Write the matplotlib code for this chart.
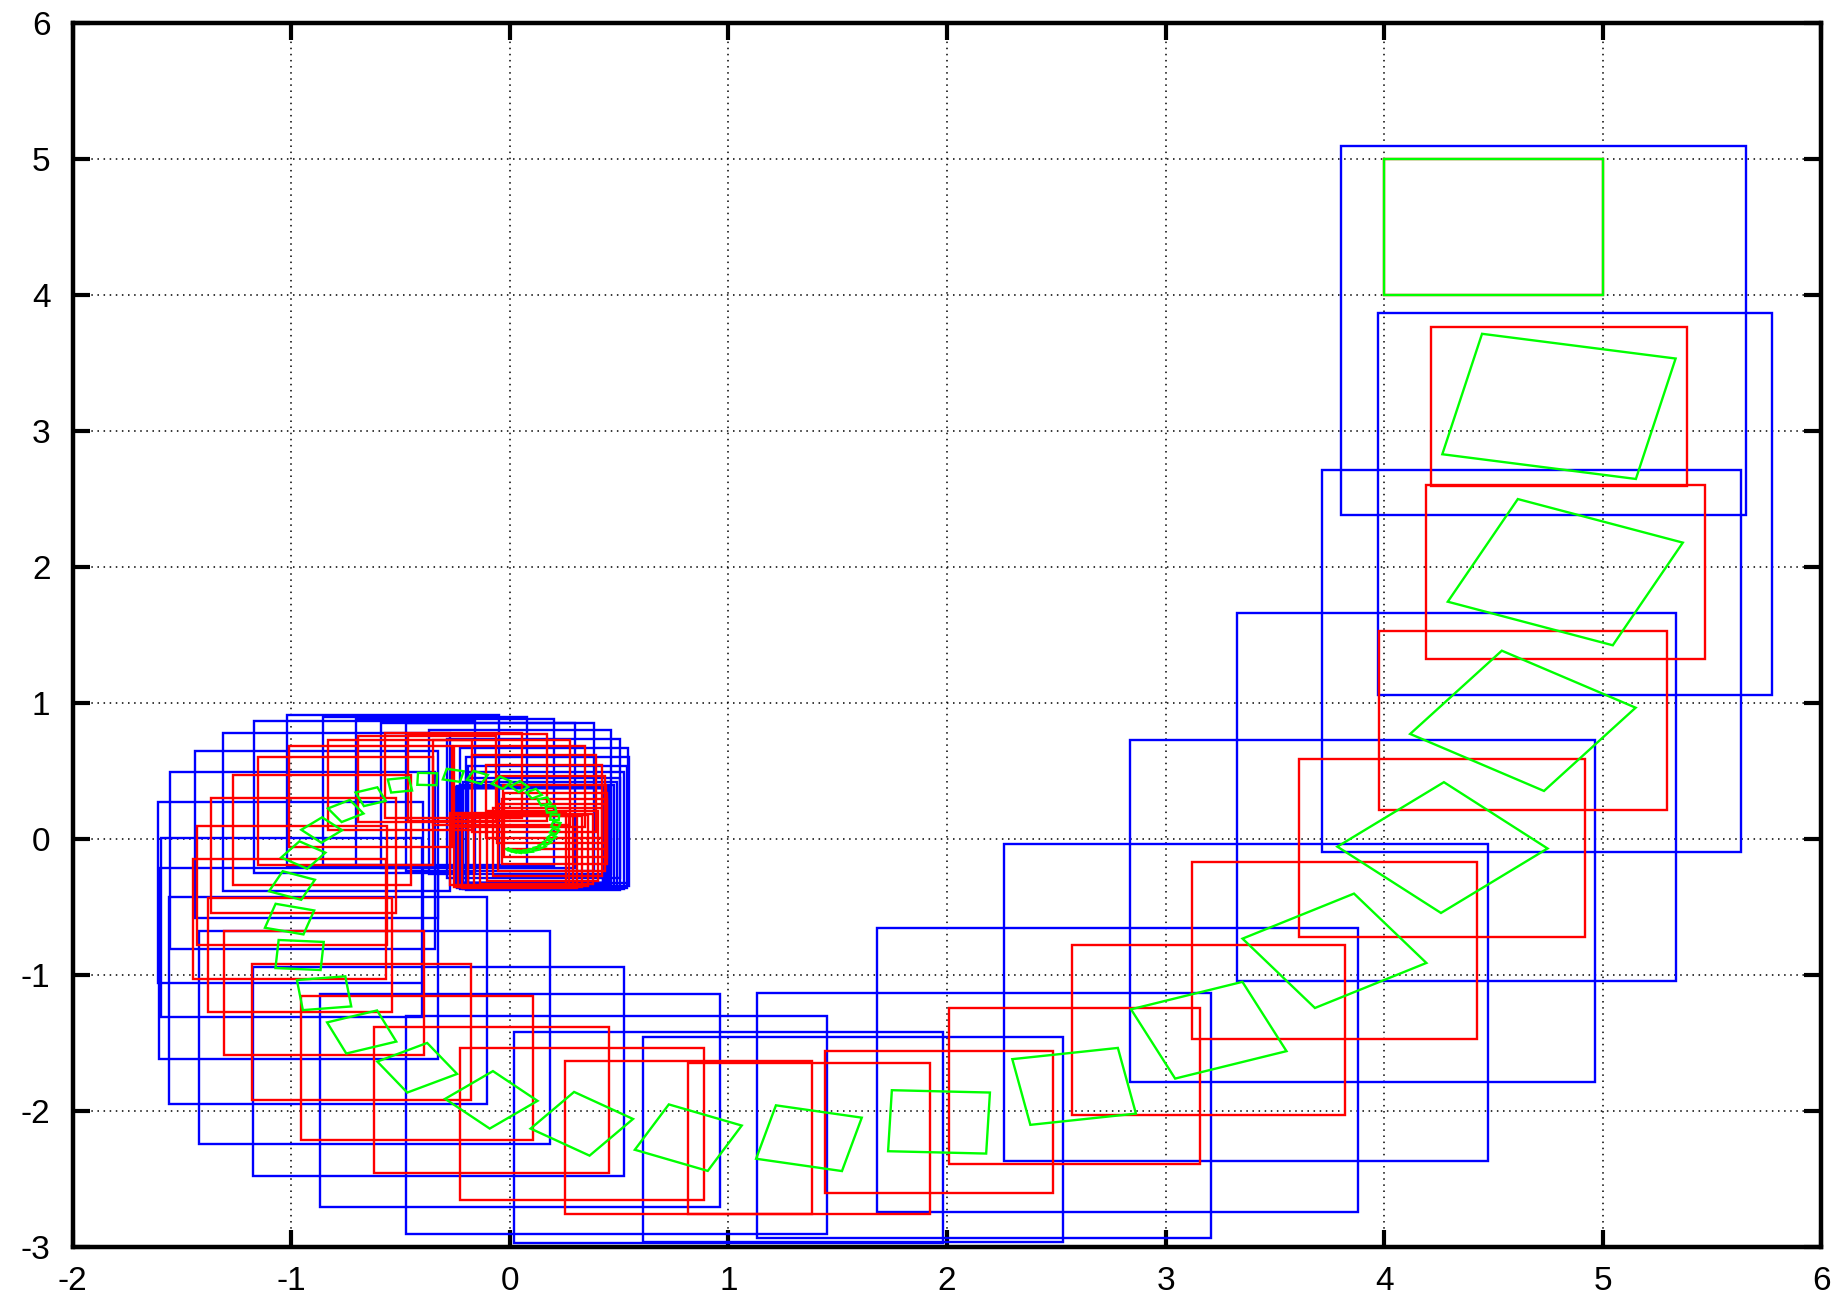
import numpy as np
import matplotlib
matplotlib.use("Agg")
import matplotlib.pyplot as plt
from matplotlib.patches import Rectangle

# Exact image of the initial box: centre, side length and rotation (degrees)
green_cx = [4.500, 4.799, 4.828, 4.634, 4.266, 3.772, 3.197, 2.581, 1.963, 1.368,
            0.816, 0.329, -0.085, -0.424, -0.678, -0.850, -0.962, -1.008, -0.997, -0.945,
            -0.861, -0.751, -0.637, -0.503, -0.378, -0.259, -0.149, -0.038, 0.043, 0.110,
            0.157, 0.188, 0.205, 0.210, 0.204, 0.191, 0.171, 0.148, 0.122, 0.096,
            0.070, 0.046, 0.025, 0.007, -0.008]
green_cy = [4.500, 3.181, 1.962, 0.869, -0.063, -0.822, -1.406, -1.819, -2.080, -2.200,
            -2.196, -2.094, -1.918, -1.682, -1.419, -1.134, -0.853, -0.589, -0.342, -0.118,
            0.066, 0.206, 0.311, 0.397, 0.441, 0.468, 0.453, 0.414, 0.385, 0.333,
            0.276, 0.218, 0.160, 0.105, 0.056, 0.013, -0.023, -0.051, -0.071, -0.085,
            -0.092, -0.094, -0.091, -0.085, -0.076]
green_side = [1.000, 0.904, 0.820, 0.742, 0.680, 0.608, 0.548, 0.490, 0.449, 0.403,
              0.368, 0.335, 0.299, 0.266, 0.245, 0.223, 0.207, 0.183, 0.160, 0.145,
              0.132, 0.118, 0.107, 0.097, 0.088, 0.080, 0.072, 0.065, 0.058, 0.052,
              0.047, 0.043, 0.039, 0.035, 0.031, 0.028, 0.025, 0.023, 0.021, 0.019,
              0.017, 0.015, 0.014, 0.012, 0.011]
green_angle = [0.0, -11.6, -23.0, -34.4, -45.8, -57.0, -68.4, -80.3, -92.2, -103.0,
               -115.0, -126.4, -137.0, -149.0, -159.0, -173.0, -184.0, -195.5, -203.0, -215.0,
               -226.0, -238.0, -249.0, -261.0, -272.0, -283.0, -295.0, -306.0, -318.0, -329.0,
               -340.0, -352.0, -363.0, -375.0, -386.0, -397.0, -409.0, -420.0, -432.0, -443.0,
               -454.0, -466.0, -477.0, -489.0, -500.0]

# Interval enclosure at each step: half width around the same centre
red_half = [0.500, 0.585, 0.639, 0.659, 0.654, 0.650, 0.624, 0.574, 0.521, 0.554,
            0.565, 0.557, 0.537, 0.531, 0.502, 0.457, 0.421, 0.440, 0.435, 0.423,
            0.407, 0.400, 0.373, 0.331, 0.316, 0.314, 0.317, 0.314, 0.300, 0.285,
            0.265, 0.245, 0.235, 0.235, 0.240, 0.245, 0.250, 0.255, 0.258, 0.260,
            0.262, 0.263, 0.264, 0.265, 0.265]

# Enclosure over each time step (blue): x0, x1, y0, y1
blue_x0 = [3.800, 3.973, 3.717, 3.327, 2.837, 2.261, 1.679, 1.129, 0.608, 0.017,
           -0.474, -0.867, -1.173, -1.420, -1.559, -1.603, -1.598, -1.608, -1.555, -1.441,
           -1.311, -1.171, -1.021, -0.854, -0.704, -0.591, -0.477, -0.370, -0.290, -0.230,
           -0.200, -0.190, -0.190, -0.200, -0.215, -0.230, -0.240, -0.245, -0.245, -0.240,
           -0.235, -0.230, -0.228, -0.226, -0.225]
blue_x1 = [5.655, 5.773, 5.632, 5.335, 4.963, 4.473, 3.878, 3.208, 2.532, 1.981,
           1.449, 0.959, 0.522, 0.182, -0.104, -0.328, -0.400, -0.399, -0.343, -0.328,
           -0.274, -0.160, -0.050, 0.080, 0.200, 0.298, 0.385, 0.461, 0.504, 0.542,
           0.545, 0.535, 0.520, 0.505, 0.490, 0.475, 0.462, 0.452, 0.444, 0.438,
           0.434, 0.431, 0.429, 0.428, 0.427]
blue_y0 = [2.381, 1.057, -0.096, -1.044, -1.789, -2.370, -2.740, -2.931, -2.966, -2.973,
           -2.907, -2.708, -2.477, -2.244, -1.950, -1.621, -1.306, -1.056, -0.811, -0.583,
           -0.382, -0.250, -0.200, -0.190, -0.200, -0.215, -0.235, -0.260, -0.290, -0.320,
           -0.345, -0.360, -0.370, -0.372, -0.370, -0.365, -0.358, -0.350, -0.342, -0.335,
           -0.330, -0.326, -0.323, -0.321, -0.320]
blue_y1 = [5.095, 3.868, 2.715, 1.659, 0.725, -0.039, -0.657, -1.132, -1.453, -1.419,
           -1.304, -1.142, -0.939, -0.676, -0.428, -0.216, 0.005, 0.275, 0.495, 0.647,
           0.777, 0.868, 0.912, 0.900, 0.880, 0.855, 0.855, 0.800, 0.733, 0.667,
           0.600, 0.540, 0.490, 0.450, 0.420, 0.400, 0.390, 0.385, 0.382, 0.380,
           0.379, 0.378, 0.378, 0.377, 0.377]

fig = plt.figure(figsize=(18.43, 13.01), dpi=100)
ax = fig.add_axes([72.7 / 1843, 1 - 1247 / 1301, (1821.5 - 72.7) / 1843, (1247 - 23) / 1301])
ax.set_xlim(-2, 6)
ax.set_ylim(-3, 6)

lw = 1.7
for k in range(len(blue_x0)):
    ax.add_patch(Rectangle((blue_x0[k], blue_y0[k]), blue_x1[k] - blue_x0[k],
                           blue_y1[k] - blue_y0[k], fill=False, ec="#0000ff", lw=lw))
for k in range(len(green_cx)):
    h = red_half[k]
    ax.add_patch(Rectangle((green_cx[k] - h, green_cy[k] - h), 2 * h, 2 * h,
                           fill=False, ec="#ff0000", lw=lw))
for k in range(len(green_cx)):
    s = green_side[k]
    ax.add_patch(Rectangle((green_cx[k] - s / 2, green_cy[k] - s / 2), s, s,
                           angle=green_angle[k], rotation_point="center",
                           fill=False, ec="#00ff00", lw=lw))

ax.set_xticks(np.arange(-2, 7, 1))
ax.set_yticks(np.arange(-3, 7, 1))
ax.set_xticklabels([str(v) for v in range(-2, 7)])
ax.set_yticklabels([str(v) for v in range(-3, 7)])
ax.grid(True, color="black", linestyle=(0, (1, 3)), linewidth=1.1)
ax.set_axisbelow(True)
for sp in ax.spines.values():
    sp.set_linewidth(3.2)
ax.tick_params(direction="in", length=12, width=3, labelsize=24, top=True, right=True)
ax.tick_params(axis="x", pad=14)
ax.tick_params(axis="y", pad=16)
for lab in ax.get_xticklabels() + ax.get_yticklabels():
    lab.set_family("Liberation Sans")

fig.savefig("out.png", dpi=100)
